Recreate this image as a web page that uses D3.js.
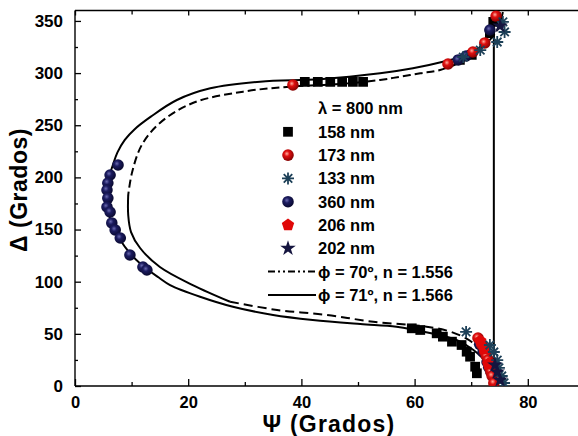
<!DOCTYPE html>
<html>
<head>
<meta charset="utf-8">
<script src="https://cdn.jsdelivr.net/npm/d3@7"></script>
<style>
  html, body { margin: 0; padding: 0; background: #fff; }
  svg { display: block; }
  text { font-family: "Liberation Sans", Arial, sans-serif; font-weight: bold; fill: #000; }
</style>
</head>
<body>
<svg id="chart" width="578" height="436"></svg>
<script>
// Ellipsometric data (Psi, Delta) in degrees, grouped by film thickness
const s158 = [[40.6,291.5],[42.9,291.5],[45.1,291.5],[47.2,291.5],[49.1,291.5],[50.9,291.5],
  [59.5,55.3],[61.0,53.7],[63.9,50.5],[65.0,47.3],[66.6,42.5],[68.3,39.3],[69.2,32.9],[69.8,28.1],[70.7,18.5],[71.0,12.2],
  [68.0,312.6],[70.1,317.4],[73.3,338.4],[73.9,349.0]];
const s173 = [[38.5,288.6],[65.9,308.7],[70.3,320.2],[72.4,328.9],[74.4,354.7],
  [71.2,46.0],[71.9,39.3],[72.4,32.6],[72.7,28.5],[73.0,24.9],[73.3,17.3],[73.5,13.5],[73.7,9.6],[74.0,2.9]];
const s133 = [[68.6,315.4],[71.6,322.1],[74.6,329.8],[75.6,349.0],[75.9,339.4],
  [69.1,51.8],[73.3,39.3],[74.0,32.6],[74.6,24.9],[74.9,17.3],[75.4,9.6],[75.8,2.9]];
const s360 = [[7.6,211.9],[6.2,202.3],[5.8,194.6],[5.65,187.9],[5.8,180.2],[5.65,171.6],[6.2,166.8],
  [6.5,156.3],[7.1,149.6],[8.0,141.9],[9.7,125.6],[12.0,114.1],[12.7,111.2],
  [67.7,312.6],[69.1,316.4],[73.3,341.3],[71.5,40.0],[72.1,32.6],[72.8,23.0],[73.1,18.0],[73.5,13.4]];
const s206 = [[71.6,43.1],[72.3,35.5],[73.0,21.0]];
const s202 = [[75.1,345.2],[74.2,20.0],[74.6,13.4],[75.1,5.8]];

// Model curves
const fit70 = [[75.6,358.6],[74.6,341.3],[72.4,326.9],[68.9,312.6],[64.5,303.0],[61.0,299.8],[57.4,296.5],
  [53.9,293.4],[46.8,289.5],[38.0,287.0],[29.7,282.2],[20.8,271.3],[15.0,252.2],[11.8,231.1],[10.1,205.2],
  [9.4,183.1],[9.4,164.0],[9.9,147.6],[11.5,132.3],[15.0,114.1],[20.8,96.8],[27.4,80.8],[35.7,72.9],
  [44.5,68.1],[52.7,61.6],[62.1,56.9],[66.3,52.1],[70.1,42.2],[72.8,24.9],[74.2,10.5],[74.7,0]];
const fit71 = [[75.1,358.6],[73.3,341.3],[71.6,325.3],[69.2,317.4],[65.0,310.9],[59.7,304.6],[53.9,299.8],
  [43.3,294.1],[32.7,291.8],[23.9,285.4],[18.0,274.2],[13.4,258.2],[10.5,246.0],[8.8,236.0],[7.5,224.0],
  [6.7,212.0],[6.0,200.0],[5.6,188.0],[5.6,176.0],[6.0,164.0],[6.8,152.0],[8.0,140.0],[9.6,128.0],
  [11.8,116.0],[14.8,104.0],[16.8,96.8],[22.1,85.6],[27.9,76.0],[35.0,68.1],[42.0,63.3],[50.4,59.4],[56.8,56.9],
  [62.7,50.8],[67.4,44.1],[70.4,34.5],[72.7,22.1],[73.9,7.7],[74.0,0]];
const wrap71 = [[74.0,0],[74.0,347]];

const xTicks = [0,20,40,60,80];
const xMinor = [10,30,50,70,90];
const yTicks = [0,50,100,150,200,250,300,350];
const yMinor = [25,75,125,175,225,275,325];

const legendTitle = "λ = 800 nm";
const seriesNames = ["158 nm","173 nm","133 nm","360 nm","206 nm","202 nm"];
const fitNames = ["ϕ = 70º, n = 1.556","ϕ = 71º, n = 1.566"];

const svg = d3.select("#chart");
const W = 578, H = 436;
svg.append("rect").attr("width", W).attr("height", H).attr("fill", "#fff");

const x = d3.scaleLinear().domain([0, 90]).range([75, 584.4]);
const y = d3.scaleLinear().domain([0, 360]).range([386, 10.5]);

// gradients for shaded balls
const defs = svg.append("defs");
function ball(id, light, mid, dark) {
  const g = defs.append("radialGradient").attr("id", id)
    .attr("cx", "40%").attr("cy", "38%").attr("r", "65%");
  g.append("stop").attr("offset", "0%").attr("stop-color", light);
  g.append("stop").attr("offset", "35%").attr("stop-color", mid);
  g.append("stop").attr("offset", "100%").attr("stop-color", dark);
}
ball("gRed", "#ffb0a0", "#e01010", "#800000");
ball("gNavy", "#6a6ab0", "#1c1c60", "#07072a");

defs.append("clipPath").attr("id", "plotClip").append("rect")
  .attr("x", 75).attr("y", 10.5).attr("width", W - 75).attr("height", 386 - 10.5);

// axes frame
const axes = svg.append("g").attr("stroke", "#000").attr("stroke-width", 1.4);
axes.append("line").attr("x1", 75).attr("x2", W).attr("y1", y(360)).attr("y2", y(360));
axes.append("line").attr("x1", 75).attr("x2", W).attr("y1", y(0)).attr("y2", y(0));
axes.append("line").attr("x1", 75).attr("x2", 75).attr("y1", y(0)).attr("y2", y(360));

// bottom axis (ticks point inward)
const xb = svg.append("g").attr("transform", `translate(0,${y(0)})`)
  .call(d3.axisBottom(x).tickValues(xTicks).tickSizeInner(-7).tickSizeOuter(0).tickPadding(10));
xb.select(".domain").remove();
xb.selectAll("text").attr("font-size", 16.5).attr("font-family", null);
xb.selectAll("line").attr("stroke-width", 1.3);
svg.append("g").attr("transform", `translate(0,${y(0)})`)
  .call(d3.axisBottom(x).tickValues(xMinor).tickSizeInner(-4).tickSizeOuter(0).tickFormat(""))
  .call(g => g.select(".domain").remove()).selectAll("line").attr("stroke-width", 1.3);

// top axis
svg.append("g").attr("transform", `translate(0,${y(360)})`)
  .call(d3.axisTop(x).tickValues(xTicks).tickSizeInner(-5).tickSizeOuter(0).tickFormat(""))
  .call(g => g.select(".domain").remove()).selectAll("line").attr("stroke-width", 1.3);
svg.append("g").attr("transform", `translate(0,${y(360)})`)
  .call(d3.axisTop(x).tickValues(xMinor).tickSizeInner(-4).tickSizeOuter(0).tickFormat(""))
  .call(g => g.select(".domain").remove()).selectAll("line").attr("stroke-width", 1.3);

// left axis
const yl = svg.append("g").attr("transform", `translate(75,0)`)
  .call(d3.axisLeft(y).tickValues(yTicks).tickSizeInner(-6).tickSizeOuter(0).tickPadding(12));
yl.select(".domain").remove();
yl.selectAll("text").attr("font-size", 17).attr("font-family", null);
yl.selectAll("line").attr("stroke-width", 1.3);
svg.append("g").attr("transform", `translate(75,0)`)
  .call(d3.axisLeft(y).tickValues(yMinor).tickSizeInner(-3).tickSizeOuter(0).tickFormat(""))
  .call(g => g.select(".domain").remove()).selectAll("line").attr("stroke-width", 1.3);

// axis titles
svg.append("text").attr("x", 329).attr("y", 432).attr("text-anchor", "middle")
  .attr("font-size", 23).attr("letter-spacing", 1.2).text("Ψ  (Grados)");
svg.append("text").attr("transform", "translate(27,190) rotate(-90)").attr("text-anchor", "middle")
  .attr("font-size", 23).attr("letter-spacing", 0.5).text("Δ (Grados)");

// curves
const plot = svg.append("g").attr("clip-path", "url(#plotClip)");
const line = d3.line().x(d => x(d[0])).y(d => y(d[1])).curve(d3.curveCatmullRom.alpha(0.5));
const lineLin = d3.line().x(d => x(d[0])).y(d => y(d[1]));

// phi = 70: dashed, with its lower-left arc drawn continuous
plot.append("path").datum(fit70.slice(0, 16)).attr("d", line)
  .attr("fill", "none").attr("stroke", "#000").attr("stroke-width", 2).attr("stroke-dasharray", "8,4");
plot.append("path").datum(fit70.slice(15, 22)).attr("d", line)
  .attr("fill", "none").attr("stroke", "#000").attr("stroke-width", 2);
plot.append("path").datum(fit70.slice(21)).attr("d", line)
  .attr("fill", "none").attr("stroke", "#000").attr("stroke-width", 2).attr("stroke-dasharray", "9,5");

// phi = 71: solid with the 360/0 wrap segment
plot.append("path").datum(fit71).attr("d", line)
  .attr("fill", "none").attr("stroke", "#000").attr("stroke-width", 2);
plot.append("path").datum(wrap71).attr("d", lineLin)
  .attr("fill", "none").attr("stroke", "#000").attr("stroke-width", 2);

// marker shapes
function pentagon(r) {
  const pts = d3.range(5).map(i => {
    const a = -Math.PI / 2 + i * 2 * Math.PI / 5;
    return [r * Math.cos(a), r * Math.sin(a)];
  });
  return "M" + pts.map(p => p.join(",")).join("L") + "Z";
}
function asterisk(r) {
  let p = "";
  for (let i = 0; i < 4; i++) {
    const a = i * Math.PI / 4;
    p += `M${-r * Math.cos(a)},${-r * Math.sin(a)}L${r * Math.cos(a)},${r * Math.sin(a)}`;
  }
  return p;
}
const sqPath = d3.symbol(d3.symbolSquare, 95)();
const starPath = d3.symbol(d3.symbolStar, 75)();

function drawSeries(data, kind, g) {
  const sel = g.selectAll(null).data(data).enter();
  if (kind === "square") {
    sel.append("path").attr("d", sqPath).attr("fill", "#000")
      .attr("transform", d => `translate(${x(d[0])},${y(d[1])})`);
  } else if (kind === "red") {
    sel.append("circle").attr("r", 5.8).attr("fill", "url(#gRed)")
      .attr("cx", d => x(d[0])).attr("cy", d => y(d[1]));
  } else if (kind === "navy") {
    sel.append("circle").attr("r", 5.8).attr("fill", "url(#gNavy)")
      .attr("cx", d => x(d[0])).attr("cy", d => y(d[1]));
  } else if (kind === "asterisk") {
    sel.append("path").attr("d", asterisk(6)).attr("stroke", "#1d4058").attr("stroke-width", 1.8)
      .attr("fill", "none").attr("transform", d => `translate(${x(d[0])},${y(d[1])})`);
  } else if (kind === "pentagon") {
    sel.append("path").attr("d", pentagon(6.5)).attr("fill", "#e00808")
      .attr("transform", d => `translate(${x(d[0])},${y(d[1])})`);
  } else if (kind === "star") {
    sel.append("path").attr("d", starPath).attr("fill", "#15153f")
      .attr("transform", d => `translate(${x(d[0])},${y(d[1])})`);
  }
}
const marks = svg.append("g").attr("clip-path", "url(#plotClip)");
drawSeries(s158, "square", marks);
drawSeries(s360, "navy", marks);
drawSeries(s173, "red", marks);
drawSeries(s206, "pentagon", marks);
drawSeries(s133, "asterisk", marks);
drawSeries(s202, "star", marks);

// legend
const lg = svg.append("g");
const rowY = i => 108.5 + i * 23.3;
lg.append("text").attr("x", 318).attr("y", rowY(0)).attr("dy", "0.36em").attr("font-size", 16.5).text(legendTitle);
const kinds = ["square", "red", "asterisk", "navy", "pentagon", "star"];
const lx = x.invert(288);
seriesNames.forEach((name, i) => {
  const ry = y.invert(rowY(i + 1));
  drawSeries([[lx, ry]], kinds[i], lg);
  lg.append("text").attr("x", 318).attr("y", rowY(i + 1)).attr("dy", "0.36em").attr("font-size", 16.5).text(name);
});
fitNames.forEach((name, i) => {
  const ly = rowY(7 + i);
  lg.append("line").attr("x1", 268).attr("x2", 316).attr("y1", ly).attr("y2", ly)
    .attr("stroke", "#000").attr("stroke-width", 2)
    .attr("stroke-dasharray", i === 0 ? "7,3,2,3,2,3" : null);
  lg.append("text").attr("x", 318).attr("y", ly).attr("dy", "0.36em").attr("font-size", 16.5).text(name);
});
</script>
</body>
</html>
